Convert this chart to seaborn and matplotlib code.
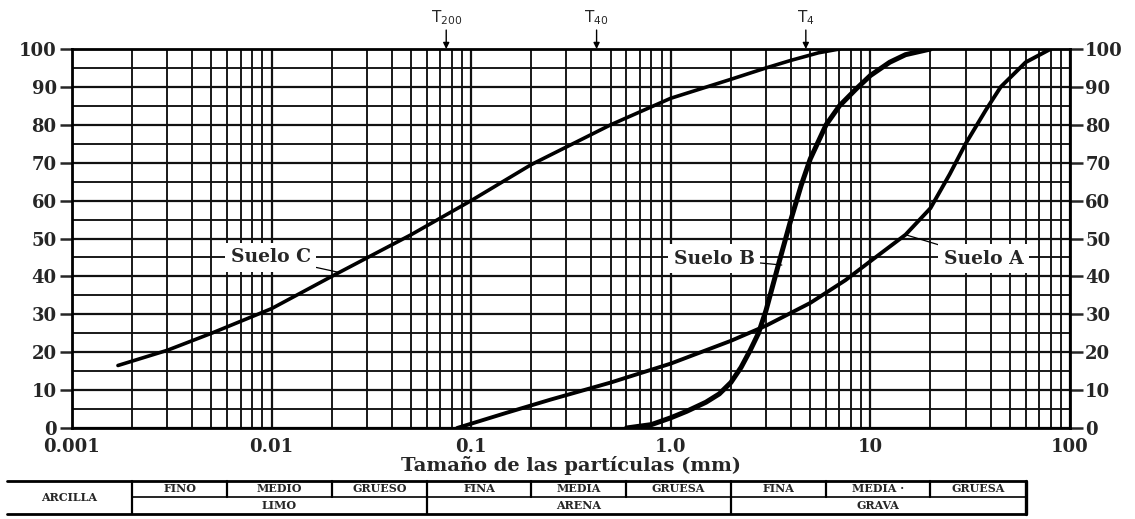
import numpy as np
import pandas as pd
import matplotlib
matplotlib.use("Agg")
import matplotlib.pyplot as plt
import matplotlib.transforms as mtransforms
from matplotlib.ticker import LogLocator, MultipleLocator, NullFormatter
import seaborn as sns

# ---------------- data ----------------
suelo_c_size = [0.0017, 0.003, 0.005, 0.01, 0.02, 0.05, 0.1, 0.2, 0.5, 1.0, 2.0, 3.0, 4.0, 5.5, 7.0]
suelo_c_pct = [16.5, 20.5, 25.0, 31.5, 40.0, 51.0, 60.0, 69.5, 80.0, 87.0, 92.0, 95.0, 97.0, 99.0, 100.0]

suelo_b_size = [0.6, 0.8, 1.0, 1.2, 1.5, 1.75, 2.0, 2.25, 2.5, 2.75, 3.0, 3.5, 4.0, 4.5,
                5.0, 6.0, 7.0, 8.5, 10.0, 12.5, 15.0, 20.0]
suelo_b_pct = [0.0, 0.9, 2.7, 4.4, 6.8, 9.0, 12.0, 16.0, 20.5, 25.0, 31.0, 44.0, 55.0, 64.0,
               71.0, 80.0, 85.0, 89.5, 93.0, 96.5, 98.5, 100.0]

suelo_a_size = [0.085, 0.15, 0.25, 0.5, 1.0, 2.0, 3.0, 5.0, 7.5, 10.0, 15.0, 20.0, 25.0,
                30.0, 38.0, 45.0, 60.0, 80.0]
suelo_a_pct = [0.0, 4.0, 7.5, 12.0, 17.0, 23.0, 27.0, 33.0, 39.0, 44.0, 51.0, 58.0, 67.0,
               75.0, 84.0, 90.0, 96.5, 100.0]

xtick_vals = [0.001, 0.01, 0.1, 1.0, 10, 100]
xtick_labels = ["0.001", "0.01", "0.1", "1.0", "10", "100"]
ytick_vals = list(range(0, 101, 10))

sieve_names = [r"T$_{200}$", r"T$_{40}$", r"T$_{4}$"]
sieve_sizes = [0.075, 0.425, 4.75]

labels = ["Suelo C", "Suelo B", "Suelo A"]
label_pos = [(0.0099, 45.0), (1.65, 44.7), (37.0, 44.7)]
label_target = [(0.022, 41.0), (3.6, 43.0), (15.0, 51.0)]

# classification table
table_left = 0.00047
upper_bounds = [0.002, 0.006, 0.02, 0.06, 0.2, 0.6, 2.0, 6.0, 20.0, 60.0]
upper_names = ["FINO", "MEDIO", "GRUESO", "FINA", "MEDIA", "GRUESA", "FINA", "MEDIA ·", "GRUESA"]
lower_bounds = [0.002, 0.06, 2.0, 60.0]
lower_names = ["LIMO", "ARENA", "GRAVA"]
clay_name = "ARCILLA"

# ---------------- style ----------------
sns.set_style("white")
plt.rcParams["font.family"] = ["DejaVu Serif", "Liberation Serif"]
plt.rcParams["mathtext.fontset"] = "dejavusans"

fig = plt.figure(figsize=(11.35, 5.19), dpi=100)
ax = fig.add_axes([0.0634, 0.1753, 0.8793, 0.7303])
ax.set_xscale("log")
ax.set_xlim(0.001, 100)
ax.set_ylim(0, 100)

# grid
ax.xaxis.set_minor_locator(LogLocator(base=10, subs=np.arange(2, 10)))
ax.xaxis.set_minor_formatter(NullFormatter())
ax.yaxis.set_minor_locator(MultipleLocator(5))
ax.grid(which="major", axis="both", color="#111111", lw=1.6)
ax.grid(which="minor", axis="both", color="#111111", lw=1.35)
ax.set_axisbelow(True)

# curves
frames = [
    pd.DataFrame({"size": suelo_c_size, "pct": suelo_c_pct}),
    pd.DataFrame({"size": suelo_b_size, "pct": suelo_b_pct}),
    pd.DataFrame({"size": suelo_a_size, "pct": suelo_a_pct}),
]
widths = [2.6, 3.6, 2.8]
for df, lw in zip(frames, widths):
    sns.lineplot(data=df, x="size", y="pct", ax=ax, color="black", lw=lw,
                 estimator=None, sort=False, legend=False, zorder=3)
for line in ax.get_lines():
    line.set_solid_joinstyle("round")
    line.set_solid_capstyle("round")

# labels with leader lines
for txt, pos, tgt in zip(labels, label_pos, label_target):
    ax.annotate(txt, xy=tgt, xytext=pos, ha="center", va="center",
                fontsize=13.5, fontweight="bold", zorder=5,
                bbox=dict(boxstyle="square,pad=0.3", fc="white", ec="none"),
                arrowprops=dict(arrowstyle="-", color="black", lw=0.9,
                                shrinkA=0, shrinkB=0))

# sieve markers
for name, s in zip(sieve_names, sieve_sizes):
    ax.annotate(name, xy=(s, 100), xytext=(0, 16), textcoords="offset points",
                ha="center", va="bottom", fontsize=11,
                family="DejaVu Sans", annotation_clip=False,
                arrowprops=dict(arrowstyle="-|>", color="black", lw=1.0,
                                mutation_scale=9, shrinkA=0, shrinkB=0))

# ticks
ax.set_xticks(xtick_vals)
ax.set_xticklabels(xtick_labels)
ax.set_yticks(ytick_vals)
ax.set_yticklabels([str(v) for v in ytick_vals])
ax.tick_params(axis="y", which="major", direction="out", length=9, width=1.8,
               left=True, right=True, labelleft=True, labelright=True,
               labelsize=13, pad=2)
ax.tick_params(axis="y", which="minor", left=False, right=False)
ax.tick_params(axis="x", which="major", direction="out", length=3, width=1.5,
               labelsize=13, pad=4)
ax.tick_params(axis="x", which="minor", bottom=False)
for lab in ax.get_xticklabels() + ax.get_yticklabels():
    lab.set_fontweight("bold")

ax.set_xlabel("Tamaño de las partículas (mm)", fontsize=14, fontweight="bold",
              labelpad=0)
ax.set_ylabel("")

for sp in ax.spines.values():
    sp.set_visible(True)
    sp.set_color("black")
    sp.set_linewidth(2.0)

# classification table below the chart (x in data coords, y in figure coords)
trans = mtransforms.blended_transform_factory(ax.transData, fig.transFigure)
y_top, y_mid, y_bot = 1 - 481 / 519, 1 - 497 / 519, 1 - 514 / 519
x_right = upper_bounds[-1]
line_kw = dict(color="black", transform=trans, clip_on=False)
fig.add_artist(plt.Line2D([table_left, x_right], [y_top, y_top], lw=2.0, **line_kw))
fig.add_artist(plt.Line2D([table_left, x_right], [y_bot, y_bot], lw=2.0, **line_kw))
fig.add_artist(plt.Line2D([upper_bounds[0], x_right], [y_mid, y_mid], lw=1.2, **line_kw))
fig.add_artist(plt.Line2D([x_right, x_right], [y_bot, y_top], lw=2.4, **line_kw))
for b in upper_bounds[:-1]:
    y0 = y_bot if b in lower_bounds else y_mid
    fig.add_artist(plt.Line2D([b, b], [y0, y_top], lw=1.6, **line_kw))

txt_kw = dict(transform=trans, ha="center", va="center", fontsize=8,
              fontweight="bold")
fig.text(np.sqrt(table_left * upper_bounds[0]), (y_top + y_bot) / 2, clay_name, **txt_kw)
for i, name in enumerate(upper_names):
    xc = np.sqrt(upper_bounds[i] * upper_bounds[i + 1])
    fig.text(xc, (y_top + y_mid) / 2, name, **txt_kw)
for i, name in enumerate(lower_names):
    xc = np.sqrt(lower_bounds[i] * lower_bounds[i + 1])
    fig.text(xc, (y_mid + y_bot) / 2, name, **txt_kw)

fig.savefig("out.png", dpi=100, facecolor="white")
